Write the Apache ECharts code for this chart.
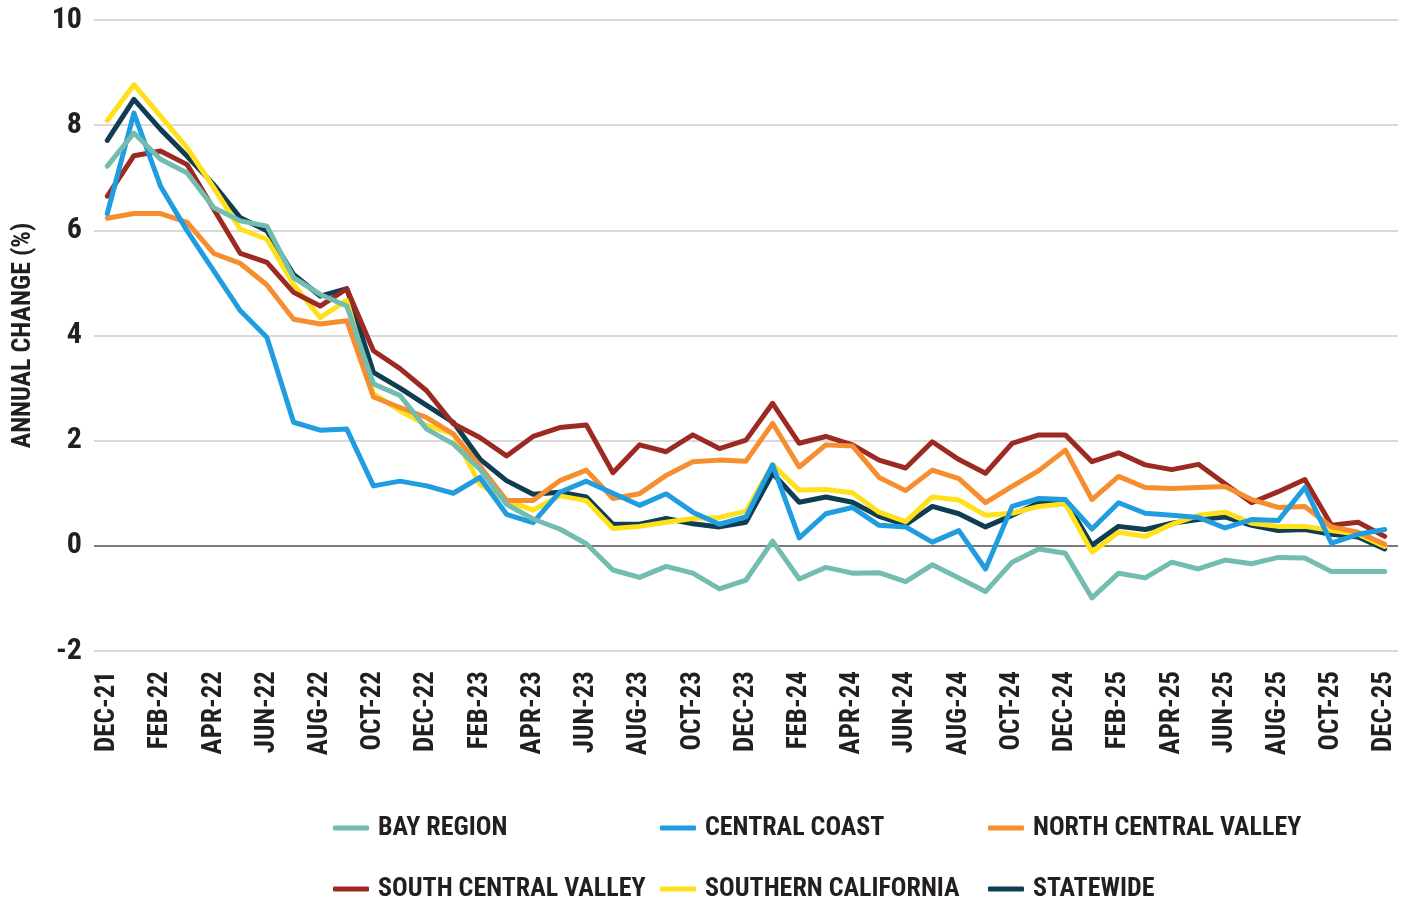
<!DOCTYPE html>
<html>
<head>
<meta charset="utf-8">
<script src="https://cdn.jsdelivr.net/npm/echarts@6/dist/echarts.min.js"></script>
<style>
html,body{margin:0;padding:0;background:#fff;}
#chart{width:1410px;height:903px;}
</style>
</head>
<body>
<div id="chart"></div>
<script>
const months = ["DEC-21","JAN-22","FEB-22","MAR-22","APR-22","MAY-22","JUN-22","JUL-22","AUG-22","SEP-22","OCT-22","NOV-22",
"DEC-22","JAN-23","FEB-23","MAR-23","APR-23","MAY-23","JUN-23","JUL-23","AUG-23","SEP-23","OCT-23","NOV-23",
"DEC-23","JAN-24","FEB-24","MAR-24","APR-24","MAY-24","JUN-24","JUL-24","AUG-24","SEP-24","OCT-24","NOV-24",
"DEC-24","JAN-25","FEB-25","MAR-25","APR-25","MAY-25","JUN-25","JUL-25","AUG-25","SEP-25","OCT-25","NOV-25","DEC-25"];

const bayRegion = [7.22,7.85,7.35,7.09,6.43,6.18,6.08,5.10,4.78,4.56,3.08,2.86,2.22,1.94,1.46,0.79,0.51,0.32,0.04,-0.46,-0.60,-0.39,-0.52,-0.82,-0.65,0.09,-0.63,-0.41,-0.52,-0.51,-0.68,-0.36,-0.61,-0.87,-0.31,-0.06,-0.14,-0.99,-0.52,-0.61,-0.31,-0.44,-0.27,-0.34,-0.22,-0.23,-0.49,-0.49,-0.49];
const centralCoast = [6.32,8.23,6.84,5.99,5.23,4.47,3.96,2.35,2.20,2.22,1.14,1.23,1.14,1.00,1.30,0.60,0.44,1.02,1.23,1.00,0.77,0.99,0.64,0.41,0.55,1.54,0.15,0.61,0.73,0.39,0.36,0.07,0.29,-0.44,0.75,0.90,0.88,0.32,0.82,0.62,0.58,0.54,0.34,0.50,0.48,1.11,0.05,0.22,0.31];
const northCentralValley = [6.23,6.32,6.32,6.15,5.56,5.37,4.96,4.31,4.22,4.28,2.83,2.63,2.44,2.13,1.52,0.86,0.86,1.24,1.44,0.90,0.99,1.34,1.60,1.63,1.61,2.33,1.50,1.92,1.90,1.30,1.05,1.44,1.28,0.82,1.13,1.43,1.82,0.88,1.32,1.11,1.09,1.11,1.13,0.88,0.73,0.75,0.36,0.26,0.03];
const southCentralValley = [6.65,7.42,7.51,7.25,6.40,5.56,5.39,4.82,4.56,4.89,3.71,3.37,2.95,2.32,2.06,1.71,2.08,2.25,2.30,1.39,1.92,1.79,2.11,1.85,2.01,2.71,1.95,2.08,1.92,1.63,1.48,1.98,1.64,1.38,1.95,2.11,2.11,1.60,1.77,1.54,1.45,1.55,1.18,0.82,1.03,1.26,0.39,0.45,0.18];
const southernCalifornia = [8.09,8.77,8.17,7.57,6.81,6.02,5.83,4.97,4.34,4.67,2.89,2.57,2.29,2.13,1.17,0.86,0.68,0.95,0.86,0.33,0.37,0.45,0.52,0.54,0.66,1.54,1.06,1.07,1.01,0.64,0.46,0.93,0.87,0.58,0.62,0.75,0.80,-0.12,0.26,0.18,0.41,0.58,0.64,0.43,0.37,0.37,0.29,0.22,-0.01];
const statewide = [7.71,8.49,7.92,7.41,6.87,6.24,5.99,5.16,4.75,4.89,3.30,3.00,2.67,2.35,1.65,1.24,0.98,1.02,0.93,0.41,0.41,0.52,0.42,0.36,0.45,1.38,0.83,0.93,0.83,0.56,0.40,0.75,0.61,0.36,0.58,0.82,0.87,0.01,0.37,0.31,0.43,0.50,0.55,0.39,0.29,0.31,0.22,0.17,-0.06];

const seriesNames = ["BAY REGION","CENTRAL COAST","NORTH CENTRAL VALLEY","SOUTH CENTRAL VALLEY","SOUTHERN CALIFORNIA","STATEWIDE"];
const seriesData = [bayRegion, centralCoast, northCentralValley, southCentralValley, southernCalifornia, statewide];
const colors = ["#73bcb0","#1f9de0","#f68d2e","#9c2a22","#ffe01b","#0f3e52"];
const legendPos = [[333,815],[660,815],[988,815],[333,876],[660,876],[988,876]];

const FONT = "'Liberation Sans Narrow','Roboto Condensed','DejaVu Sans Condensed',sans-serif";

const chart = echarts.init(document.getElementById('chart'));
const series = seriesNames.map((n,i)=>({
  name:n, type:'line', data:seriesData[i], showSymbol:false, symbol:'none',
  z: 10 - i,
  lineStyle:{width:5,color:colors[i],cap:'round',join:'round'},
  itemStyle:{color:colors[i]},
  emphasis:{disabled:true},
  markLine: i===0 ? {silent:true, symbol:'none', label:{show:false},
    lineStyle:{color:'#7a7a7a',width:2,type:'solid'}, data:[{yAxis:0}], z:1} : undefined
}));

chart.setOption({
  animation:false,
  color:colors,
  grid:{left:94,right:12,top:20,bottom:252},
  legend: seriesNames.map((n,i)=>({
    data:[n], left:legendPos[i][0], top:legendPos[i][1], icon:'roundRect',
    itemWidth:36, itemHeight:5, selectedMode:false, padding:0,
    textStyle:{fontFamily:FONT,fontSize:26,fontWeight:'bold',color:'#231f20',padding:[0,0,0,4]}
  })),
  xAxis:{type:'category',data:months,boundaryGap:true,
    axisLine:{show:false},axisTick:{show:false},
    axisLabel:{interval:1,rotate:90,margin:20,fontFamily:FONT,fontSize:27,fontWeight:'bold',color:'#231f20'}},
  yAxis:{type:'value',min:-2,max:10,interval:2,
    name:'ANNUAL CHANGE (%)',nameLocation:'middle',nameRotate:90,nameGap:58,
    nameTextStyle:{fontFamily:FONT,fontSize:26,fontWeight:'bold',color:'#231f20'},
    axisLine:{show:false},axisTick:{show:false},
    axisLabel:{margin:12,fontFamily:FONT,fontSize:30,fontWeight:'bold',color:'#231f20'},
    splitLine:{lineStyle:{color:'#cccccc',width:1.5}}},
  series:series
});
</script>
</body>
</html>
